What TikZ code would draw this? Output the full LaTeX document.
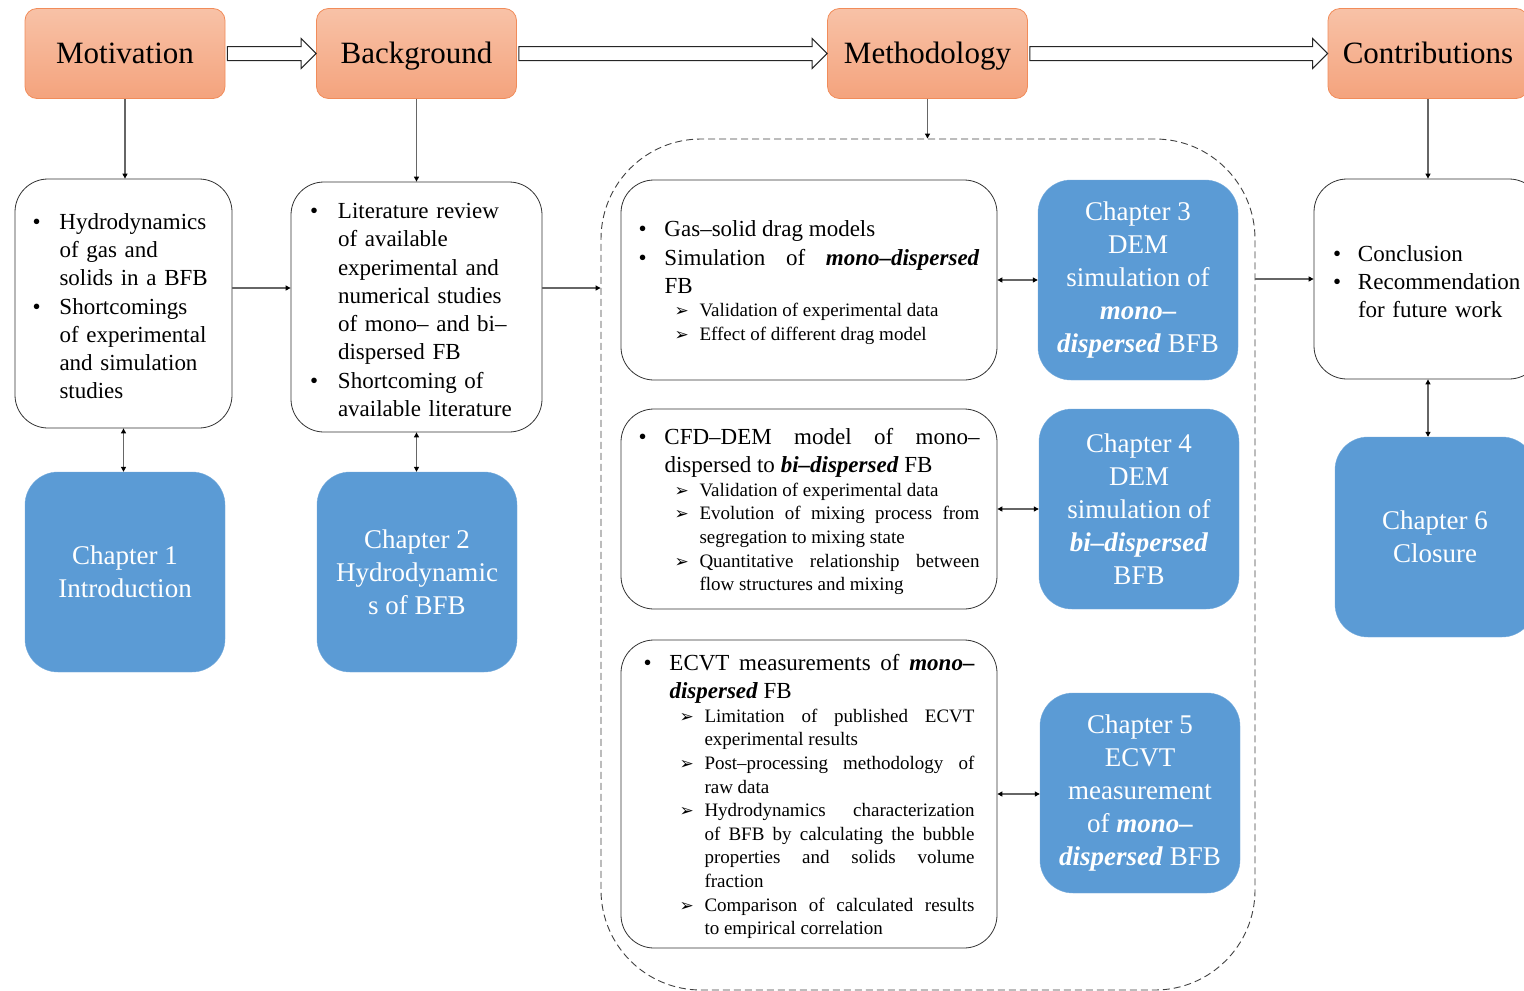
\documentclass[tikz,border=0pt]{standalone}
\usepackage{fontspec}
\setmainfont{Liberation Serif}
\newfontfamily\arrowfont{DejaVu Sans}
\usetikzlibrary{arrows.meta}

\definecolor{chblue}{RGB}{91,155,213}
\definecolor{hdtop}{RGB}{248,194,167}
\definecolor{hdbot}{RGB}{244,163,125}
\definecolor{hdline}{RGB}{241,140,90}

\newlength\bulind
\newlength\arrind
\newlength\subind
\newcommand\listsetup{\parskip=0pt\parindent=0pt\tolerance=10000\hyphenpenalty=10000\exhyphenpenalty=10000}
\newcommand\justifytext{\leftskip=0pt\rightskip=0pt\parfillskip=0pt plus 1fil\relax
  \everypar{\rightskip=0pt\leftskip=0pt\relax}}
\newcommand\liststart{\vspace*{-7pt}}
\newcommand\listend{\par}
\newcommand\bitem[1]{\par\fontsize{23}{28.3}\selectfont\hangindent=\bulind\hangafter=1\noindent\makebox[\bulind][l]{\textbullet}#1}
\newcommand\aitem[1]{\par\fontsize{19}{23.6}\selectfont\hangindent=\subind\hangafter=1\noindent\hspace*{\arrind}\makebox[\dimexpr\subind-\arrind\relax][l]{\arrowfont\fontsize{17}{17}\selectfont ➢}#1}
\newcommand\bim[1]{\textbf{\textit{#1}}}
\newcommand\blockarrow[2]{%
  \draw[blockarr] ([xshift=2pt,yshift=-7pt]#1.east) -- ([xshift=-15pt,yshift=-7pt]#2.west)
    -- ([xshift=-15pt,yshift=-15pt]#2.west) -- (#2.west) -- ([xshift=-15pt,yshift=15pt]#2.west)
    -- ([xshift=-15pt,yshift=7pt]#2.west) -- ([xshift=2pt,yshift=7pt]#1.east) -- cycle;}

\begin{document}
\begin{tikzpicture}[x=1pt, y=-1pt,
  hdbox/.style={top color=hdtop, bottom color=hdbot, draw=hdline, line width=0.8pt, rounded corners=12pt,
    minimum width=200pt, minimum height=90pt, text height=26pt, text depth=6pt, font=\fontsize{31}{37}\selectfont},
  txtbox/.style={draw=black!80, line width=0.8pt, fill=white, rounded corners=33pt, inner sep=0pt,
    font=\listsetup\fontsize{23}{28.3}\selectfont},
  chbox/.style={fill=chblue, draw=chblue!85!white, rounded corners=33pt, minimum width=200pt, minimum height=200pt,
    text=white, align=center, font=\fontsize{27}{33}\selectfont},
  grpbox/.style={draw=black!75, dash pattern=on 7pt off 4pt, line width=0.9pt, rounded corners=100pt,
    minimum width=654pt, minimum height=851pt},
  blockarr/.style={draw=black!85, line width=1pt, fill=white},
  conn/.style={draw=black!60, line width=1.1pt, -{Triangle[length=5pt,width=5pt,color=black]}},
  biconn/.style={conn, {Triangle[length=5pt,width=5pt,color=black]}-{Triangle[length=5pt,width=5pt,color=black]}}]
  \useasboundingbox (0,0) rectangle (1524,991);

  \node[hdbox] (mot) at (125,53.5) {Motivation};
  \node[hdbox] (bkg) at (416.5,53.5) {Background};
  \node[hdbox] (meth) at (927.5,53.5) {Methodology};
  \node[hdbox] (contr) at (1428,53.5) {Contributions};

  \node[txtbox, minimum width=217pt, minimum height=249pt, text width=182pt] (hydro) at (123.5,303.5)
    {\liststart\raggedright\setlength\bulind{27pt}
     \bitem{Hydrodynamics\newline of gas and\newline solids in a BFB}
     \bitem{Shortcomings\newline of experimental\newline and simulation\newline studies}\listend};
  \node[txtbox, minimum width=251pt, minimum height=250pt, text width=213pt] (litrev) at (416.5,307)
    {\liststart\raggedright\setlength\bulind{28pt}
     \bitem{Literature review\newline of available\newline experimental and\newline numerical studies\newline of mono-- and bi--\newline dispersed FB}
     \bitem{Shortcoming of\newline available literature}\listend};

  \node[chbox] (ch1) at (125,572) {Chapter 1\\Introduction};
  \node[chbox] (ch2) at (417,572) {Chapter 2\\Hydrodynamic\\s of BFB};

  \node[grpbox] (methgrp) at (928,564.5) {};

  \node[txtbox, align=justify, minimum width=376pt, minimum height=200pt, text width=341pt] (drag) at (809,280)
    {\liststart\justifytext\setlength\bulind{26pt}\setlength\arrind{36pt}\setlength\subind{61pt}
     \bitem{Gas--solid drag models}
     \bitem{Simulation of \bim{mono--dispersed}\linebreak FB}
     \aitem{Validation of experimental data}
     \aitem{Effect of different drag model}\listend};
  \node[chbox] (ch3) at (1138,280) {Chapter 3\\DEM\\simulation of\\\bim{mono--}\\\bim{dispersed} BFB};

  \node[txtbox, align=justify, minimum width=376pt, minimum height=200pt, text width=341pt] (mixing) at (809,509)
    {\liststart\justifytext\setlength\bulind{26pt}\setlength\arrind{36pt}\setlength\subind{61pt}
     \bitem{CFD--DEM model of mono--\linebreak dispersed to \bim{bi--dispersed} FB}
     \aitem{Validation of experimental data}
     \aitem{Evolution of mixing process from\linebreak segregation to mixing state}
     \aitem{Quantitative relationship between\linebreak flow structures and mixing}\listend};
  \node[chbox] (ch4) at (1139,509) {Chapter 4\\DEM\\simulation of\\\bim{bi--dispersed}\\BFB};

  \node[txtbox, align=justify, minimum width=376pt, minimum height=308pt, text width=331pt] (ecvt) at (809,794)
    {\liststart\justifytext\setlength\bulind{26pt}\setlength\arrind{36pt}\setlength\subind{61pt}
     \bitem{ECVT measurements of \bim{mono--}\linebreak\bim{dispersed} FB}
     \aitem{Limitation of published ECVT\linebreak experimental results}
     \aitem{Post--processing methodology of\linebreak raw data}
     \aitem{Hydrodynamics characterization\linebreak of BFB by calculating the bubble\linebreak properties and solids volume\linebreak fraction}
     \aitem{Comparison of calculated results\linebreak to empirical correlation}\listend};
  \node[chbox] (ch5) at (1140,793) {Chapter 5\\ECVT\\measurement\\of \bim{mono--}\\\bim{dispersed} BFB};

  \node[txtbox, minimum width=228pt, minimum height=200pt, text width=190pt] (concl) at (1428,279)
    {\liststart\raggedright\setlength\bulind{25pt}
     \bitem{Conclusion}
     \bitem{Recommendation\newline for future work}\listend};
  \node[chbox] (ch6) at (1435,537) {Chapter 6\\Closure};

  \blockarrow{mot}{bkg}
  \blockarrow{bkg}{meth}
  \blockarrow{meth}{contr}

  \draw[conn] (mot.south) -- (mot.south |- hydro.north);
  \draw[conn] (bkg.south) -- (bkg.south |- litrev.north);
  \draw[conn] (meth.south) -- (meth.south |- methgrp.north);
  \draw[conn] (contr.south) -- (contr.south |- concl.north);

  \path (hydro.east) ++(0,-15.5) coordinate (h1);
  \path (litrev.east) ++(0,-19) coordinate (h2);
  \draw[conn] (h1) -- (h1 -| litrev.west);
  \draw[conn] (h2) -- (h2 -| methgrp.west);
  \draw[conn] (methgrp.east |- concl.west) -- (concl.west);

  \draw[biconn] (hydro.south) -- (hydro.south |- ch1.north);
  \draw[biconn] (litrev.south) -- (litrev.south |- ch2.north);
  \draw[biconn] (concl.south) -- (concl.south |- ch6.north);
  \draw[biconn] (drag.east) -- (ch3.west);
  \draw[biconn] (mixing.east) -- (ch4.west);
  \draw[biconn] (ecvt.east) -- (ecvt.east -| ch5.west);
\end{tikzpicture}
\end{document}
